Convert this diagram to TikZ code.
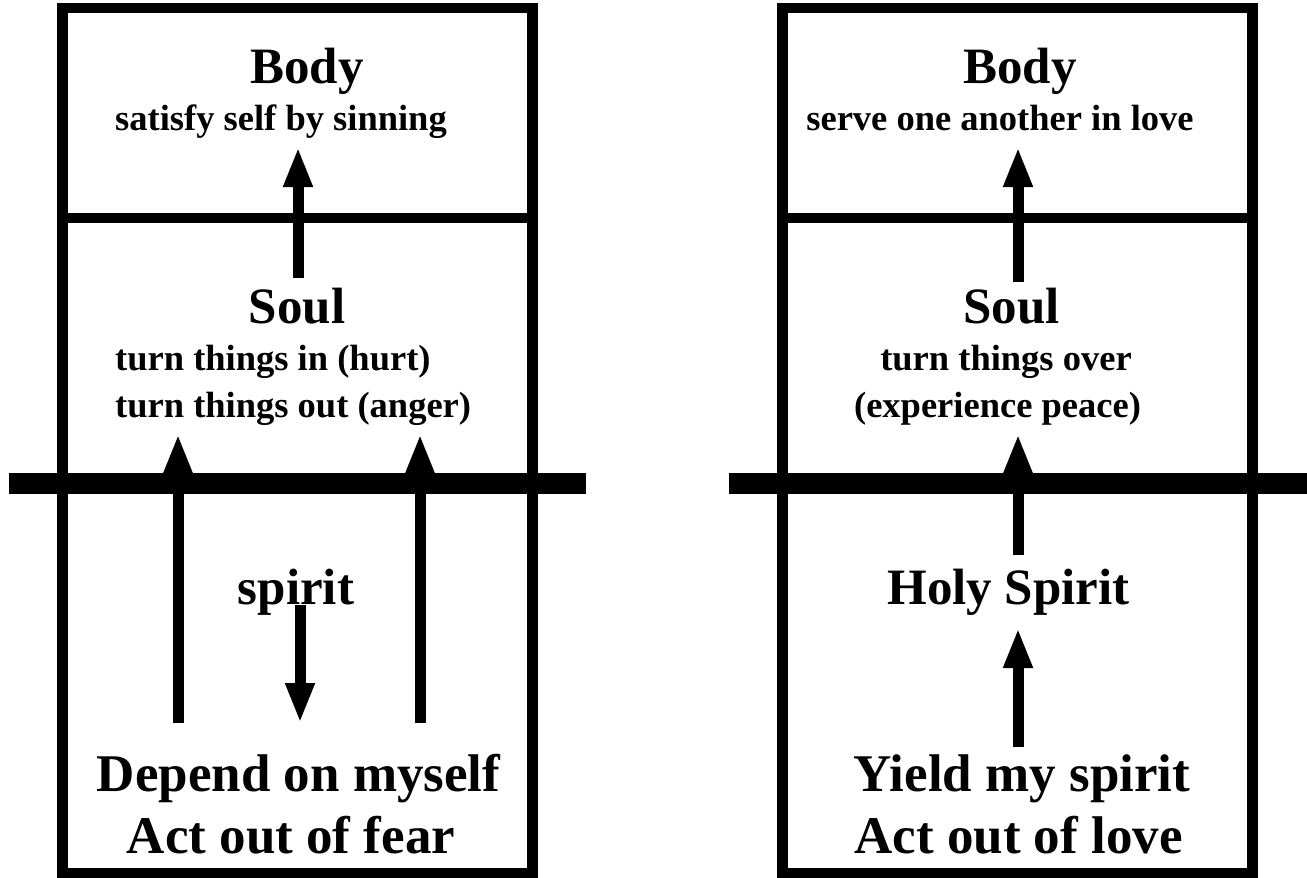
\documentclass[tikz,border=0pt]{standalone}
\usepackage{fontspec}
\setmainfont{Liberation Serif}
\usetikzlibrary{arrows.meta}
\begin{document}
\begin{tikzpicture}[x=1pt,y=-1pt,
  boxline/.style={line width=10.5pt},
  barline/.style={line width=21pt},
  arr/.style={line width=11pt,-{Triangle[length=40pt,width=27pt]}},
  big/.style={anchor=base,inner sep=0pt,font=\bfseries\fontsize{51}{51}\selectfont},
  small/.style={anchor=base,inner sep=0pt,font=\bfseries\fontsize{36.5}{36.5}\selectfont},
  bottom/.style={anchor=base,inner sep=0pt,font=\bfseries\fontsize{53}{53}\selectfont}]
\useasboundingbox (0,0) rectangle (1307,878);
% ---------- left diagram ----------
\draw[boxline] (62.5,8) rectangle (532.5,873);
\draw[boxline] (62.5,218) -- (532.5,218);
% text
\node[big] (lbody) at (307,83) {Body};
\node[small] (lbodytxt) at (281,130) {satisfy self by sinning};
\node[big] (lsoul) at (297,323) {Soul};
\node[small,anchor=base west] (lsoul1) at (115,370) {turn things in (hurt)};
\node[small,anchor=base west] (lsoul2) at (115,417) {turn things out (anger)};
\node[big] (lspirit) at (296,604) {spirit};
\node[bottom] (ldep) at (298.5,791) {Depend on myself};
\node[bottom] (lact) at (291,853) {Act out of fear};
% arrows
\coordinate (la0) at (298,278); \coordinate (la1) at (298,147);
\coordinate (lb0) at (178,723); \coordinate (lb1) at (178,434);
\coordinate (lc0) at (420,723); \coordinate (lc1) at (420,434);
\coordinate (ld0) at (300,605); \coordinate (ld1) at (300,723);
\draw[arr] (la0) -- (la1);
\draw[arr] (lb0) -- (lb1);
\draw[arr] (lc0) -- (lc1);
\draw[arr] (ld0) -- (ld1);
\draw[barline] (9,483.5) -- (586,483.5);
% ---------- right diagram ----------
\draw[boxline] (782.5,8) rectangle (1252.5,873);
\draw[boxline] (782.5,218) -- (1252.5,218);
\node[big] (rbody) at (1020,83) {Body};
\node[small] (rbodytxt) at (1000,130) {serve one another in love};
\node[big] (rsoul) at (1011.5,323) {Soul};
\node[small] (rsoul1) at (1006,370) {turn things over};
\node[small] (rsoul2) at (997.5,417) {(experience peace)};
\node[big] (rspirit) at (1008.5,604) {Holy Spirit};
\node[bottom] (ryield) at (1022,791) {Yield my spirit};
\node[bottom] (ract) at (1018.5,853) {Act out of love};
\coordinate (ra0) at (1018,282); \coordinate (ra1) at (1018,147);
\coordinate (rb0) at (1018,555); \coordinate (rb1) at (1018,434);
\coordinate (rc0) at (1018,747); \coordinate (rc1) at (1018,628);
\draw[arr] (ra0) -- (ra1);
\draw[arr] (rb0) -- (rb1);
\draw[arr] (rc0) -- (rc1);
\draw[barline] (729,483.5) -- (1307,483.5);
\end{tikzpicture}
\end{document}
